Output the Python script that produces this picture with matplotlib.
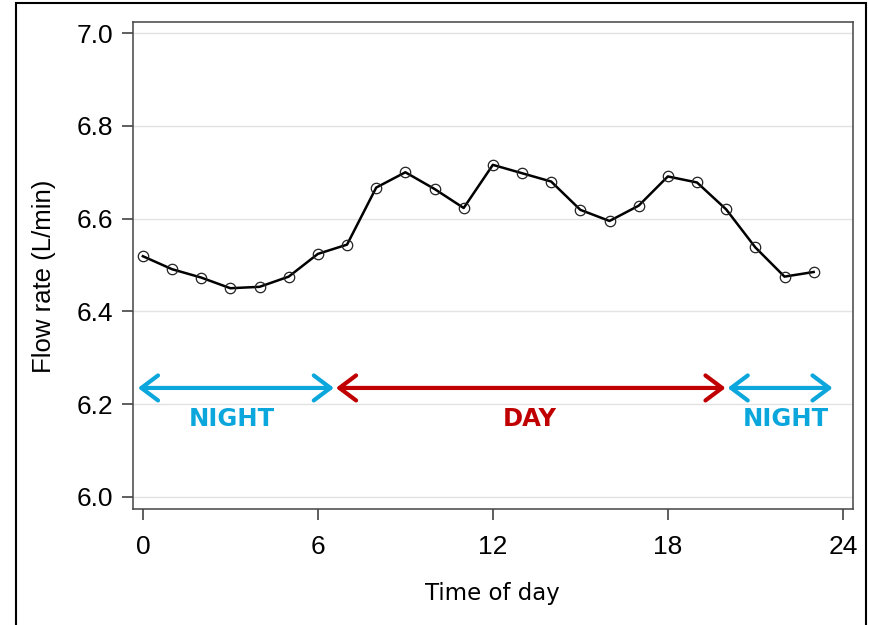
import matplotlib.pyplot as plt
from matplotlib.patches import Rectangle

plt.rcParams.update({
    "font.family": ["Liberation Sans Narrow", "Liberation Sans", "DejaVu Sans"],
    "axes.linewidth": 1.1,
})

# --- Data: mean flow rate by hour ---
hours = list(range(24))
flow = [6.519, 6.491, 6.473, 6.450, 6.453, 6.475, 6.524, 6.544,
        6.667, 6.700, 6.664, 6.623, 6.716, 6.698, 6.680, 6.619,
        6.595, 6.628, 6.691, 6.678, 6.620, 6.538, 6.475, 6.485]

# day / night periods (arrows)
period_names = ["NIGHT", "DAY", "NIGHT"]
period_start = [-0.17, 6.62, 20.05]
period_end = [6.55, 19.98, 23.65]
period_label_x = [3.05, 13.27, 22.04]
period_colors = ["#0aa6dc", "#c00000", "#0aa6dc"]
arrow_y = 6.235
label_y = 6.167

xticks = [0, 6, 12, 18, 24]
yticks = [6.0, 6.2, 6.4, 6.6, 6.8, 7.0]

fig = plt.figure(figsize=(8.69, 6.25), dpi=100)
ax = fig.add_axes([0.153, 0.1856, 0.8283, 0.7792])

# outer frame around the whole picture
fig.patches.append(Rectangle((16 / 869, -0.05), 850 / 869, 1.05 - 2.5 / 625,
                             transform=fig.transFigure, fill=False,
                             edgecolor="black", lw=1.5))

ax.grid(True, axis="y", color="#e3e3e3", lw=1)
ax.set_axisbelow(True)

ax.plot(hours, flow, color="black", lw=1.8, marker="o", markersize=7.5,
        markerfacecolor="none", markeredgecolor="#222222", markeredgewidth=0.9)

for name, x0, x1, lx, c in zip(period_names, period_start, period_end,
                                period_label_x, period_colors):
    ax.annotate("", xy=(x1, arrow_y), xytext=(x0, arrow_y),
                arrowprops=dict(arrowstyle="<->,head_length=0.6,head_width=0.45",
                                color=c, lw=3, shrinkA=0, shrinkB=0,
                                mutation_scale=20))
    ax.text(lx, label_y, name, color=c, fontsize=17.5, fontweight="bold",
            family="DejaVu Sans", ha="center", va="center")

ax.set_xlim(-0.34, 24.34)
ax.set_ylim(5.974, 7.024)
ax.set_xticks(xticks)
ax.set_yticks(yticks)
ax.set_yticklabels([f"{v:.1f}" for v in yticks])
ax.tick_params(axis="both", labelsize=19, length=8, width=1.1, color="#333333")
ax.tick_params(axis="y", pad=6)
ax.tick_params(axis="x", pad=11)

for s in ax.spines.values():
    s.set_color("#444444")

ax.set_xlabel("Time of day", family="DejaVu Sans", fontsize=16.5, labelpad=16)
ax.set_ylabel("Flow rate (L/min)", family="Liberation Sans", fontsize=18.5)
ax.yaxis.set_label_coords(-0.107, 0.478)

plt.savefig("out.png", dpi=100)
